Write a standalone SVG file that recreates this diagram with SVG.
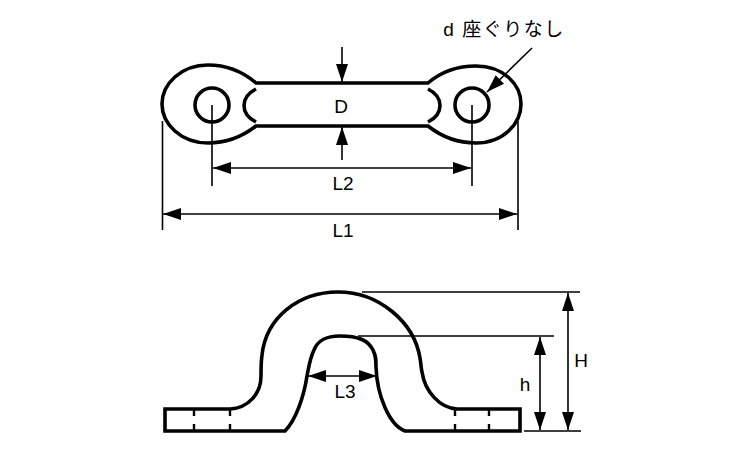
<svg xmlns="http://www.w3.org/2000/svg" width="750" height="450" viewBox="0 0 750 450">
<style>
.o{fill:none;stroke:#000;stroke-width:3.6;stroke-linecap:butt;stroke-linejoin:miter}
.d{fill:none;stroke:#000;stroke-width:1.6}
.a{fill:none;stroke:#000;stroke-width:1.6;marker-end:url(#ah)}
.s{fill:none;stroke:#000;stroke-width:2.4}
text{font-family:"Liberation Sans","Noto Sans CJK JP",sans-serif;font-size:19px;fill:#000;text-anchor:middle}
</style>
<defs>
<marker id="ah" markerUnits="userSpaceOnUse" markerWidth="20" markerHeight="12" refX="18" refY="6" orient="auto"><path d="M0 0L18 6L0 12z" fill="#000"/></marker>
</defs>
<rect width="750" height="450" fill="#fff"/>
<g id="top-view">
<path class="o" d="M256 83C242 71 226 65 208 65C181 65 162 84 162 104C162 124 181 143 208 143C226 143 242 137 256 126L428 126C442 137 458 143 476 143C503 143 521 124 521 104C521 84 503 66 476 66C458 66 442 71 428 83Z"/>
<circle class="o" cx="212" cy="105" r="17"/>
<circle class="o" cx="472" cy="105" r="17"/>
<path class="o" d="M256 89C240 97 240 114 256 122"/>
<path class="o" d="M428 89C444 97 444 114 428 122"/>
</g>
<g id="side-view">
<path class="o" d="M230 409C248 408 261 394 261 376C261 368 261 362 262 355C266 318 298 292 338 292C379 292 414 322 420 358C421 364 421 368 422 372C425 392 440 408 457 409L520 409L520 431L405 431C389 425 377 395 376 367C376 360 376 356 373 350C368 340 358 336 340 336C326 336 318 340 314 350C310 358 309 366 307 376C304 396 296 420 285 431L165 431L165 409L230 409Z"/>
<path d="M190 411H198V429H190ZM226 411H234V429H226ZM451 411H459V429H451ZM485 411H493V429H485Z" fill="#fff"/>
<path class="s" d="M194 409V416M194 424V431M230 409V416M230 424V431M455 409V416M455 424V431M489 409V416M489 424V431"/>
</g>
<g id="connectors">
<path class="a" d="M342 47V82"/>
<path class="a" d="M342 160V127"/>
<path class="d" d="M212 105V186M472 105V186M162.500 121V230M518 121V230"/>
<path class="a" d="M342 168H213"/>
<path class="a" d="M342 168H471"/>
<path class="a" d="M342 214H163"/>
<path class="a" d="M342 214H517"/>
<path class="a" d="M532 48L487 92"/>
<path class="d" d="M362 292H580M358 336H554M524 431H581"/>
<path class="a" d="M342 376H308"/>
<path class="a" d="M342 376H377"/>
<path class="a" d="M568 362V293"/>
<path class="a" d="M568 362V430"/>
<path class="a" d="M540 384V337"/>
<path class="a" d="M540 384V430"/>
</g>
<g id="labels">
<text x="341" y="113">D</text>
<text x="343" y="190">L2</text>
<text x="343" y="237">L1</text>
<text x="345" y="398">L3</text>
<text x="525" y="391">h</text>
<text x="581" y="367">H</text>
<text x="504" y="36" letter-spacing="1.500">d 座ぐりなし</text>
</g>
</svg>
